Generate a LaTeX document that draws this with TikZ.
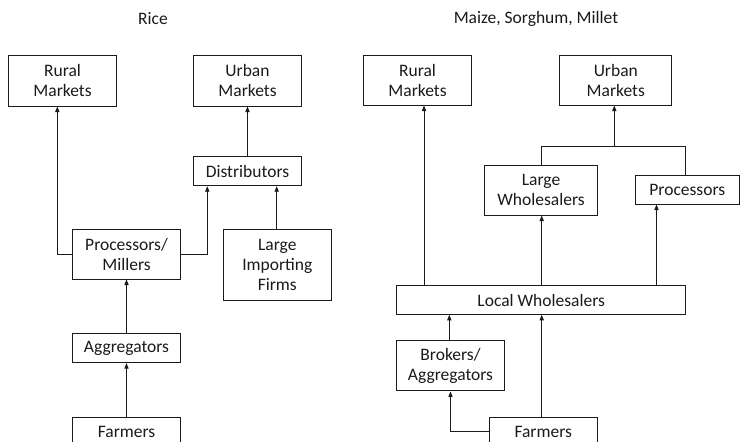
\documentclass[tikz,border=0pt]{standalone}
\usepackage{fontspec}
\setmainfont{Carlito}
\usetikzlibrary{arrows.meta,calc}
\definecolor{ink}{HTML}{1A1A1A}
\tikzset{
  box/.style={draw=ink, line width=1pt, text=ink, align=center, inner sep=0pt,
    font=\fontsize{17.5}{20}\selectfont},
  arr/.style={draw=ink, line width=0.9pt, -{Triangle[width=4.2pt,length=5.5pt]}},
  ln/.style={draw=ink, line width=0.9pt},
  ttl/.style={text=ink, font=\fontsize{17.5}{20}\selectfont, inner sep=0pt}
}
\begin{document}
\begin{tikzpicture}[x=1pt,y=-1pt]
\useasboundingbox (0,0) rectangle (740,442);
% titles
\node[ttl] (t1) at (153,19) {Rice};
\node[ttl] (t2) at (536,19) {Maize, Sorghum, Millet};
% ---- Rice ----
\node[box, minimum width=108.4pt, minimum height=51pt] (rrm) at (62.5,80.5) {Rural\\Markets};
\node[box, minimum width=108.4pt, minimum height=51pt] (rum) at (247.5,80.5) {Urban\\Markets};
\node[box, minimum width=108.4pt, minimum height=29pt] (dist) at (247.5,171.2) {Distributors};
\node[box, minimum width=107.6pt, minimum height=50pt] (proc) at (126.5,254) {Processors/\\Millers};
\node[box, minimum width=108pt, minimum height=71.3pt] (lif) at (277.3,264.7) {Large\\Importing\\Firms};
\node[box, minimum width=107.6pt, minimum height=28.7pt] (agg) at (126.5,348.3) {Aggregators};
\node[box, minimum width=107.6pt, minimum height=29pt] (farm) at (126.5,431.8) {Farmers};
\draw[arr] (proc.west) -| ([xshift=-5.2pt]rrm.south);
\draw[arr] (proc.east) -| ([xshift=-40.2pt]dist.south);
\draw[arr] ([xshift=-0.6pt]lif.north) -- ([xshift=-0.6pt]lif.north |- dist.south);
\draw[arr] (dist.north) -- (rum.south);
\draw[arr] (agg.north) -- (proc.south);
\draw[arr] (farm.north) -- (agg.south);
% ---- Maize, Sorghum, Millet ----
\node[box, minimum width=108.4pt, minimum height=50pt] (mrm) at (417.5,80) {Rural\\Markets};
\node[box, minimum width=111.7pt, minimum height=50pt] (mum) at (615.8,80) {Urban\\Markets};
\node[box, minimum width=113.4pt, minimum height=50pt] (lw) at (541,190) {Large\\Wholesalers};
\node[box, minimum width=104.5pt, minimum height=29pt] (mproc) at (687.3,189.5) {Processors};
\node[box, minimum width=289pt, minimum height=28.6pt] (locw) at (541.2,300) {Local Wholesalers};
\node[box, minimum width=107.6pt, minimum height=50.3pt] (brok) at (450.5,365.8) {Brokers/\\Aggregators};
\node[box, minimum width=107.6pt, minimum height=29pt] (mfarm) at (543.2,431.8) {Farmers};
\coordinate (br) at (614.3,146.7);
\draw[ln] (lw.north) |- (br) -| ([xshift=-1.6pt]mproc.north);
\draw[arr] (br) -- (br |- mum.south);
\draw[arr] ([xshift=-117.2pt]locw.north) -- ([xshift=-117.2pt]locw.north |- mrm.south);
\draw[arr] ([xshift=0.5pt]locw.north) -- ([xshift=0.5pt]locw.north |- lw.south);
\draw[arr] ([xshift=115.3pt]locw.north) -- ([xshift=115.3pt]locw.north |- mproc.south);
\draw[arr] ([xshift=-1.2pt]brok.north) -- ([xshift=-1.2pt]brok.north |- locw.south);
\draw[arr] ([xshift=-1.5pt]mfarm.north) -- ([xshift=-1.5pt]mfarm.north |- locw.south);
\draw[arr] (mfarm.west) -| (brok.south);
\end{tikzpicture}
\end{document}
